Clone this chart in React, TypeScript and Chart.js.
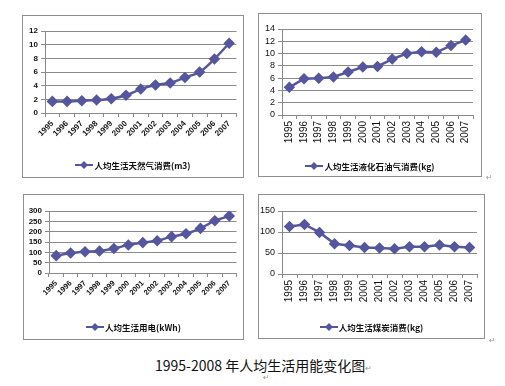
import React, { useEffect, useRef } from 'react';
import { Chart, registerables } from 'chart.js';

Chart.register(...registerables);

const years = ['1995', '1996', '1997', '1998', '1999', '2000', '2001', '2002', '2003', '2004', '2005', '2006', '2007'];
const gasValues = [1.7, 1.7, 1.8, 1.9, 2.1, 2.6, 3.5, 4.1, 4.4, 5.2, 6.0, 7.9, 10.2];
const lpgValues = [4.5, 5.9, 6.0, 6.2, 7.0, 7.8, 7.9, 9.1, 10.0, 10.3, 10.2, 11.3, 12.2];
const elecValues = [84, 97, 103, 106, 119, 135, 147, 156, 176, 190, 216, 253, 276];
const coalValues = [113, 118, 99, 72, 68, 63, 62, 60, 65, 65, 69, 65, 63];

const gasLabel = '人均生活天然气消费(m3)';
const lpgLabel = '人均生活液化石油气消费(kg)';
const elecLabel = '人均生活用电(kWh)';
const coalLabel = '人均生活煤炭消费(kg)';
const titleText = '1995-2008 年人均生活用能变化图';

const LINE = '#56569f';
const GRID = '#8a8a8a';
const BORDER = '#8e8e8e';

type Box = { x: number; y: number; w: number; h: number };
type Plot = { l: number; r: number; t: number; b: number };

function Panel(props: {
  box: Box;
  plot: Plot;
  values: number[];
  yMax: number;
  yStep: number;
  rot: number;
  xFont: number;
  yFont: number;
  bold: boolean;
  label: string;
  tension: number;
  legendY: number;
}) {
  const { box, plot, values, yMax, yStep, rot, xFont, yFont, bold, label, tension, legendY } = props;
  const ref = useRef<HTMLCanvasElement>(null);
  const cw = box.w - 2;
  const ch = box.h - 2;
  useEffect(() => {
    const chart = new Chart(ref.current as HTMLCanvasElement, {
      type: 'line',
      data: {
        labels: years,
        datasets: [
          {
            data: values,
            borderColor: LINE,
            backgroundColor: LINE,
            borderWidth: 2.5,
            pointStyle: 'rectRot',
            pointRadius: 4,
            pointBackgroundColor: LINE,
            pointBorderColor: LINE,
            tension,
          },
        ],
      },
      options: {
        animation: false,
        responsive: false,
        maintainAspectRatio: false,
        layout: { padding: { top: plot.t, right: cw - plot.r, left: 0, bottom: 0 } },
        plugins: { legend: { display: false }, tooltip: { enabled: false } },
        scales: {
          x: {
            offset: true,
            grid: { offset: true, drawOnChartArea: false, drawTicks: true, tickLength: 4, color: GRID },
            border: { color: GRID, width: 1 },
            ticks: {
              minRotation: rot,
              maxRotation: rot,
              autoSkip: false,
              color: '#111',
              padding: 2,
              font: { family: 'Liberation Sans, Arial, sans-serif', size: xFont, weight: bold ? 'bold' : 'normal' },
            },
            afterFit: (s: any) => {
              s.height = ch - plot.b;
            },
          },
          y: {
            min: 0,
            max: yMax,
            grid: { color: GRID, tickLength: 4 },
            border: { color: GRID, width: 1 },
            ticks: {
              stepSize: yStep,
              autoSkip: false,
              color: '#111',
              padding: 3,
              font: { family: 'Liberation Sans, Arial, sans-serif', size: yFont, weight: bold ? 'bold' : 'normal', lineHeight: 1 },
            },
            afterFit: (s: any) => {
              s.width = plot.l;
            },
          },
        },
      },
    } as any);
    return () => chart.destroy();
  }, []);

  return (
    <div
      style={{
        position: 'absolute',
        left: box.x,
        top: box.y,
        width: box.w,
        height: box.h,
        boxSizing: 'border-box',
        border: `1px solid ${BORDER}`,
        background: '#fff',
      }}
    >
      <canvas ref={ref} width={cw} height={ch} style={{ display: 'block', width: cw, height: ch }} />
      <div
        style={{
          position: 'absolute',
          left: 0,
          width: cw,
          top: legendY - box.y - 1 - 7,
          height: 14,
          display: 'flex',
          alignItems: 'center',
          justifyContent: 'center',
          whiteSpace: 'nowrap',
        }}
      >
        <svg width={18} height={10} style={{ display: 'block', marginRight: 1 }}>
          <line x1={0} y1={5} x2={18} y2={5} stroke={LINE} strokeWidth={2} />
          <polygon points="9,1 13,5 9,9 5,5" fill={LINE} />
        </svg>
        <span
          style={{
            fontFamily: '"Noto Sans CJK SC", sans-serif',
            fontSize: 8.5,
            fontWeight: 'bold',
            color: '#111',
            lineHeight: '14px',
          }}
        >
          {label}
        </span>
      </div>
    </div>
  );
}

export default function App() {
  const mark = (x: number, y: number) => (
    <span style={{ position: 'absolute', left: x, top: y, fontSize: 8, color: '#999', fontFamily: 'DejaVu Sans, sans-serif' }}>↵</span>
  );
  return (
    <div style={{ position: 'fixed', left: 0, top: 0, width: 505, height: 386, background: '#fff', overflow: 'hidden' }}>
      <Panel
        box={{ x: 22, y: 15, w: 222, h: 163 }}
        plot={{ l: 22, r: 214, t: 15, b: 97 }}
        values={gasValues}
        yMax={12}
        yStep={2}
        rot={45}
        xFont={8}
        yFont={8}
        bold={true}
        label={gasLabel}
        tension={0.3}
        legendY={165}
      />
      <Panel
        box={{ x: 258, y: 13, w: 224, h: 164 }}
        plot={{ l: 23, r: 214, t: 15, b: 101 }}
        values={lpgValues}
        yMax={14}
        yStep={2}
        rot={90}
        xFont={10}
        yFont={9}
        bold={false}
        label={lpgLabel}
        tension={0}
        legendY={166}
      />
      <Panel
        box={{ x: 23, y: 194, w: 221, h: 146 }}
        plot={{ l: 25, r: 213, t: 16, b: 78 }}
        values={elecValues}
        yMax={300}
        yStep={50}
        rot={45}
        xFont={7.5}
        yFont={8}
        bold={true}
        label={elecLabel}
        tension={0.2}
        legendY={327}
      />
      <Panel
        box={{ x: 258, y: 194, w: 227, h: 145 }}
        plot={{ l: 23, r: 218, t: 16, b: 79 }}
        values={coalValues}
        yMax={150}
        yStep={50}
        rot={90}
        xFont={10}
        yFont={9}
        bold={false}
        label={coalLabel}
        tension={0}
        legendY={327}
      />
      <div
        style={{
          position: 'absolute',
          left: 155,
          top: 355,
          fontFamily: '"Noto Sans CJK SC", sans-serif',
          fontSize: 14,
          lineHeight: '20px',
          color: '#111',
          whiteSpace: 'nowrap',
        }}
      >
        {titleText}
        <span style={{ fontSize: 8, color: '#999' }}>↵</span>
      </div>
      {mark(486, 173)}
      {mark(489, 336)}
      {mark(263, 373)}
    </div>
  );
}
